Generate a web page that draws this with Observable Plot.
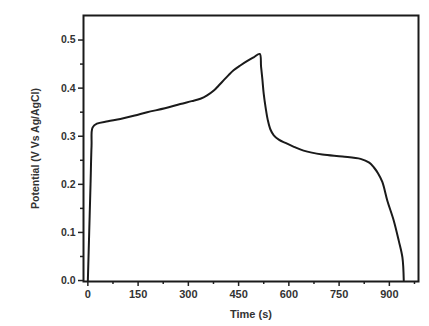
<!DOCTYPE html>
<html>
<head>
<meta charset="utf-8">
<script src="https://cdn.jsdelivr.net/npm/d3@7"></script>
<script src="https://cdn.jsdelivr.net/npm/@observablehq/plot@0.6"></script>
<style>
  html, body { margin: 0; padding: 0; background: #fff; }
  #chart svg { display: block; }
</style>
</head>
<body>
<div id="chart"></div>
<script>
// Time (s) and potential (V vs Ag/AgCl)
const time = [0, 4, 8, 11, 14, 27, 60, 97, 140, 177, 230, 276, 310, 336, 356, 376, 390, 405, 420, 435, 455, 475, 495, 513,
  517, 521, 525, 531, 537, 545, 555, 570, 590, 615, 644, 700, 760, 814, 840, 854, 866, 879, 894, 913, 928, 939, 943];
const potential = [0, 0.10, 0.20, 0.28, 0.318, 0.326, 0.331, 0.336, 0.343, 0.350, 0.358, 0.367, 0.373, 0.378, 0.385, 0.395, 0.405, 0.416, 0.427, 0.437, 0.447, 0.456, 0.464, 0.471,
  0.445, 0.418, 0.388, 0.358, 0.334, 0.314, 0.302, 0.293, 0.286, 0.278, 0.270, 0.262, 0.258, 0.253, 0.245, 0.235, 0.223, 0.205, 0.166, 0.125, 0.083, 0.048, 0];
const xTicks = [0, 150, 300, 450, 600, 750, 900];
const xMinor = [75, 225, 375, 525, 675, 825, 975];
const yTicks = [0.0, 0.1, 0.2, 0.3, 0.4, 0.5];
const yMinor = [0.05, 0.15, 0.25, 0.35, 0.45];
const xLabel = "Time (s)";
const yLabel = "Potential (V Vs Ag/AgCl)";

const data = time.map((t, i) => ({t, v: potential[i]}));

const chart = Plot.plot({
  width: 429,
  height: 326,
  marginLeft: 83,
  marginRight: 11,
  marginTop: 15,
  marginBottom: 45,
  style: {fontFamily: "'Liberation Sans', Arial, sans-serif", fontWeight: "bold", fontSize: "10px", color: "#333", background: "transparent"},
  x: {domain: [-13, 987]},
  y: {domain: [-0.002, 0.551]},
  marks: [
    Plot.line(data, {x: "t", y: "v", stroke: "#1a1a1a", strokeWidth: 2, curve: "catmull-rom"}),
    Plot.axisX({ticks: xMinor, tickSize: 3, text: null, label: null, strokeWidth: 1.5, stroke: "#222"}),
    Plot.axisX({ticks: xTicks, tickSize: 5, tickPadding: 4, strokeWidth: 1.5, stroke: "#222", fill: "#333", label: xLabel, labelAnchor: "center", labelArrow: "none", labelOffset: 36, fontSize: 11}),
    Plot.axisY({ticks: yMinor, tickSize: 3, text: null, label: null, strokeWidth: 1.5, stroke: "#222"}),
    Plot.axisY({ticks: yTicks, tickSize: 5, tickPadding: 3, strokeWidth: 1.5, stroke: "#222", fill: "#333", tickFormat: d3.format(".1f"), label: yLabel, labelAnchor: "center", labelArrow: "none", labelOffset: 52, fontSize: 10.5}),
    Plot.frame({stroke: "#1a1a1a", strokeWidth: 2})
  ]
});
document.getElementById("chart").appendChild(chart);
</script>
</body>
</html>
